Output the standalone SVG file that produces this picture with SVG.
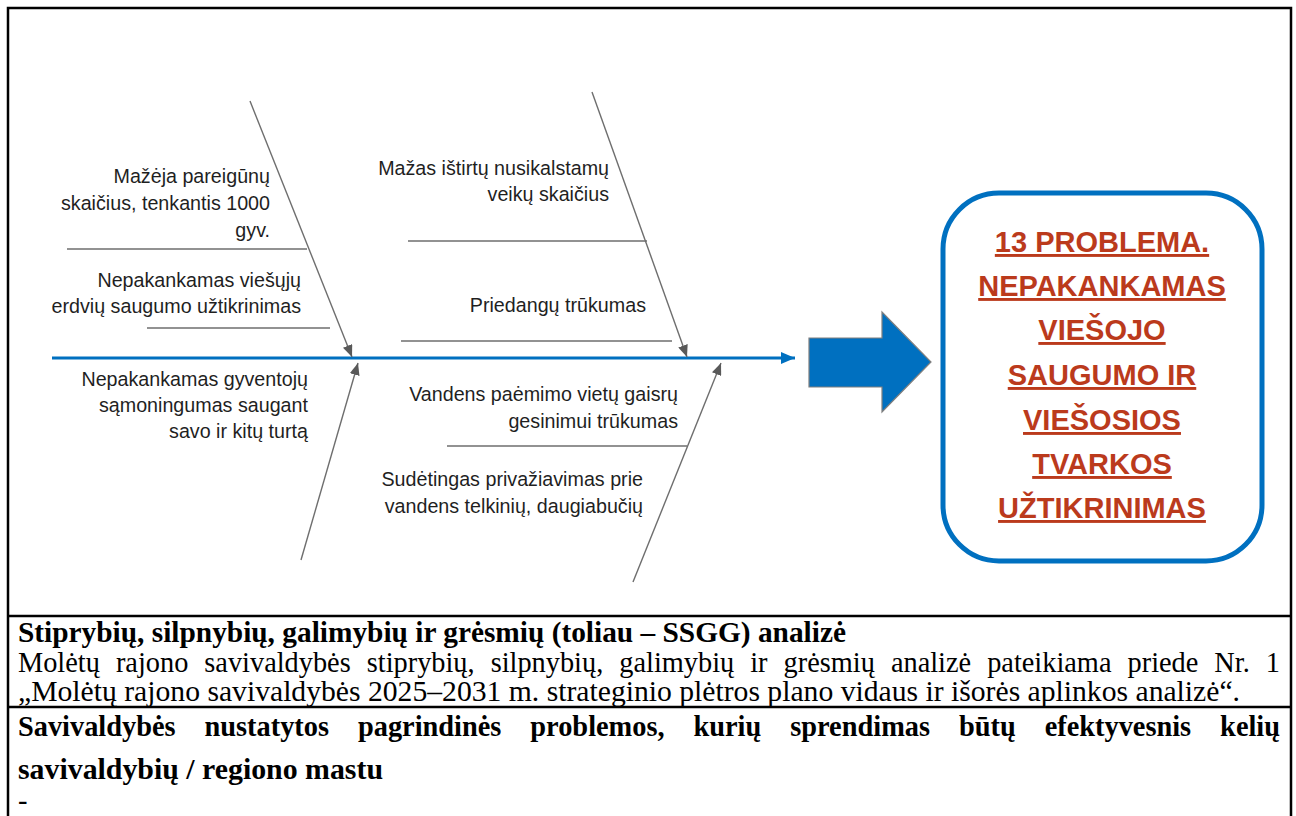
<svg xmlns="http://www.w3.org/2000/svg" width="1296" height="816" viewBox="0 0 1296 816">
<style>
.lbl{font-family:"Liberation Sans",Arial,sans-serif;font-size:19.7px;fill:#1f1f1f;text-anchor:end}
.bone{stroke:#6e6e6e;stroke-width:1.4;fill:none}
.sub{stroke:#6e6e6e;stroke-width:1.3;fill:none}
.prob{font-family:"Liberation Sans",Arial,sans-serif;font-size:29px;font-weight:bold;fill:#BB3A1C;text-anchor:middle;text-decoration:underline}
.tb{font-family:"Liberation Serif","Times New Roman",serif;font-size:28.5px;fill:#000}
.bold{font-weight:bold}
.frame{stroke:#000;stroke-width:2.5;fill:none}
</style>
<defs>
<marker id="ga" viewBox="0 0 12 10" refX="12" refY="5" markerWidth="12" markerHeight="10" orient="auto" markerUnits="userSpaceOnUse"><path d="M0,0 L12,5 L0,10 z" fill="#595959"/></marker>
<marker id="ba" viewBox="0 0 14 12" refX="14" refY="6" markerWidth="14" markerHeight="12" orient="auto" markerUnits="userSpaceOnUse"><path d="M0,0 L14,6 L0,12 z" fill="#0070C0"/></marker>
</defs>
<rect width="1296" height="816" fill="#fff"/>
<g id="frame">
<path class="frame" d="M8,816 V8 H1291 V816"/>
<line class="frame" x1="8" y1="616" x2="1291" y2="616"/>
<line class="frame" x1="8" y1="707" x2="1291" y2="707"/>
</g>
<g id="connectors">
<line x1="52" y1="358" x2="795" y2="358" stroke="#0070C0" stroke-width="3" marker-end="url(#ba)"/>
<line class="bone" x1="250" y1="101" x2="352" y2="357" marker-end="url(#ga)"/>
<line class="bone" x1="592" y1="92" x2="687" y2="357" marker-end="url(#ga)"/>
<line class="bone" x1="301" y1="560" x2="358" y2="363" marker-end="url(#ga)"/>
<line class="bone" x1="633" y1="582" x2="721" y2="363" marker-end="url(#ga)"/>
<line class="sub" x1="67" y1="249" x2="307" y2="249"/>
<line class="sub" x1="147" y1="328" x2="330" y2="328"/>
<line class="sub" x1="408" y1="241" x2="647" y2="241"/>
<line class="sub" x1="401" y1="341" x2="672" y2="341"/>
<line class="sub" x1="447" y1="446" x2="687" y2="446"/>
</g>
<g id="cause1"><text class="lbl"><tspan x="270" y="183">Mažėja pareigūnų</tspan><tspan x="270" y="210">skaičius, tenkantis 1000</tspan><tspan x="270" y="237">gyv.</tspan></text></g>
<g id="cause2"><text class="lbl"><tspan x="301" y="287">Nepakankamas viešųjų</tspan><tspan x="301" y="313">erdvių saugumo užtikrinimas</tspan></text></g>
<g id="cause3"><text class="lbl"><tspan x="308" y="386">Nepakankamas gyventojų</tspan><tspan x="308" y="412">sąmoningumas saugant</tspan><tspan x="308" y="438">savo ir kitų turtą</tspan></text></g>
<g id="cause4"><text class="lbl"><tspan x="609" y="175">Mažas ištirtų nusikalstamų</tspan><tspan x="609" y="201">veikų skaičius</tspan></text></g>
<g id="cause5"><text class="lbl"><tspan x="646" y="312">Priedangų trūkumas</tspan></text></g>
<g id="cause6"><text class="lbl"><tspan x="678" y="401">Vandens paėmimo vietų gaisrų</tspan><tspan x="678" y="428">gesinimui trūkumas</tspan></text></g>
<g id="cause7"><text class="lbl"><tspan x="643" y="486">Sudėtingas privažiavimas prie</tspan><tspan x="643" y="513">vandens telkinių, daugiabučių</tspan></text></g>
<g id="bigArrow"><path d="M809,338 H882 V312 L931,362 L882,412 V387 H809 Z" fill="#0070C0" stroke="#7f7f7f" stroke-width="1.2"/></g>
<g id="problem">
<rect x="943" y="193" width="319" height="368" rx="56" ry="56" fill="#fff" stroke="#0070C0" stroke-width="5"/>
<text class="prob"><tspan x="1102" y="252">13 PROBLEMA.</tspan><tspan x="1102" y="296">NEPAKANKAMAS</tspan><tspan x="1102" y="340">VIEŠOJO</tspan><tspan x="1102" y="385">SAUGUMO IR</tspan><tspan x="1102" y="430">VIEŠOSIOS</tspan><tspan x="1102" y="474">TVARKOS</tspan><tspan x="1102" y="518">UŽTIKRINIMAS</tspan></text>
</g>
<g id="table">
<text class="tb bold" x="18" y="642" textLength="828" lengthAdjust="spacingAndGlyphs">Stiprybių, silpnybių, galimybių ir grėsmių (toliau – SSGG) analizė</text>
<text class="tb" x="18" y="672" word-spacing="9" textLength="1262" lengthAdjust="spacingAndGlyphs">Molėtų rajono savivaldybės stiprybių, silpnybių, galimybių ir grėsmių analizė pateikiama priede Nr. 1</text>
<text class="tb" x="18" y="701" textLength="1222" lengthAdjust="spacingAndGlyphs">„Molėtų rajono savivaldybės 2025–2031 m. strateginio plėtros plano vidaus ir išorės aplinkos analizė“.</text>
<text class="tb bold" x="18" y="736" word-spacing="22" textLength="1262" lengthAdjust="spacingAndGlyphs">Savivaldybės nustatytos pagrindinės problemos, kurių sprendimas būtų efektyvesnis kelių</text>
<text class="tb bold" x="18" y="779" textLength="365" lengthAdjust="spacingAndGlyphs">savivaldybių / regiono mastu</text>
<text class="tb" x="18" y="810" fill="#555">-</text>
</g>
</svg>
